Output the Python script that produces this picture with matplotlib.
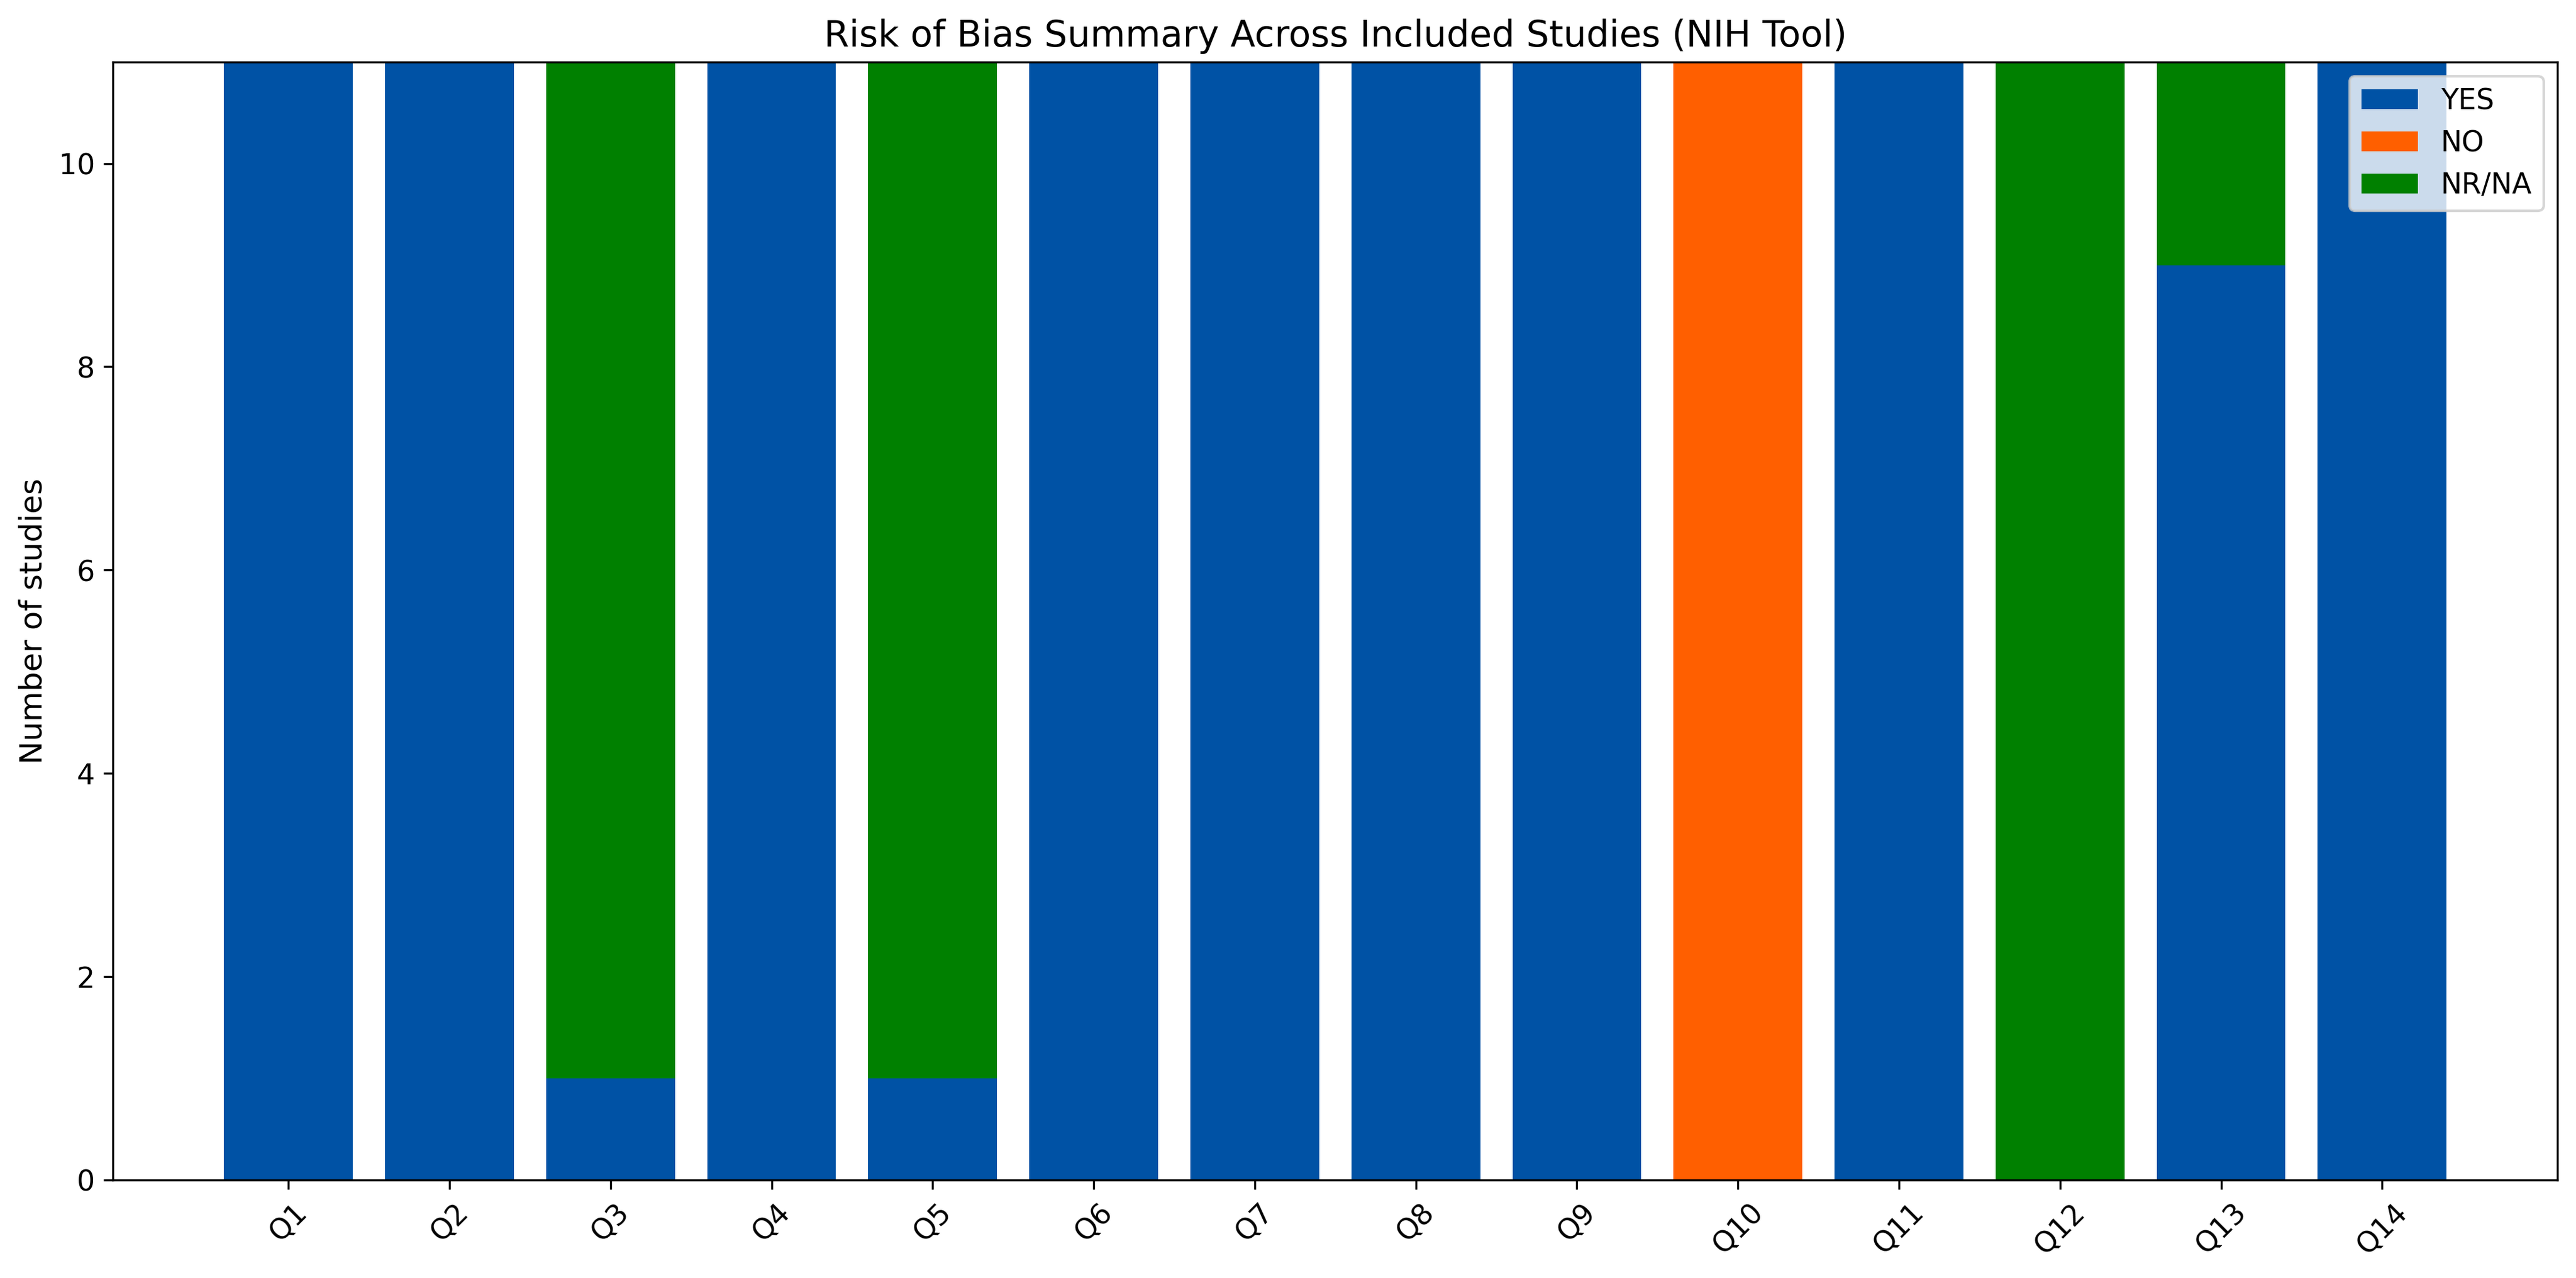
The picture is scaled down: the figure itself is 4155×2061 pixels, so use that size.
import numpy as np
import matplotlib.pyplot as plt

questions = ['Q1', 'Q2', 'Q3', 'Q4', 'Q5', 'Q6', 'Q7', 'Q8', 'Q9', 'Q10', 'Q11', 'Q12', 'Q13', 'Q14']
yes = [11, 11, 1, 11, 1, 11, 11, 11, 11, 0, 11, 0, 9, 11]
no = [0, 0, 0, 0, 0, 0, 0, 0, 0, 11, 0, 0, 0, 0]
nr_na = [0, 0, 10, 0, 10, 0, 0, 0, 0, 0, 0, 11, 2, 0]

colors = {'YES': '#0052A5', 'NO': '#FF5F00', 'NR/NA': '#008000'}

plt.rcParams['font.size'] = 11

ind = np.arange(len(questions))
yes = np.array(yes)
no = np.array(no)
nr_na = np.array(nr_na)

fig, ax = plt.subplots(figsize=(14, 7))
ax.bar(ind, yes, color=colors['YES'], label='YES')
ax.bar(ind, no, bottom=yes, color=colors['NO'], label='NO')
ax.bar(ind, nr_na, bottom=yes + no, color=colors['NR/NA'], label='NR/NA')
ax.set_xticks(ind)
ax.set_xticklabels(questions, rotation=45)
ax.set_ylim(0, 11)
ax.set_ylabel('Number of studies', fontsize=12)
ax.set_title('Risk of Bias Summary Across Included Studies (NIH Tool)', fontsize=14)
ax.legend(loc='upper right')
plt.tight_layout()
fig.savefig('out.png', dpi=300, bbox_inches='tight')
